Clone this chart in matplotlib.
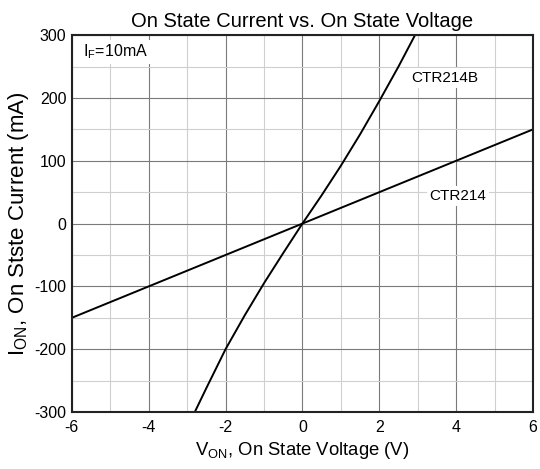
import matplotlib.pyplot as plt
import numpy as np

plt.rcParams['font.family'] = ['Liberation Sans', 'DejaVu Sans']
plt.rcParams['mathtext.fontset'] = 'custom'
plt.rcParams['mathtext.rm'] = 'Liberation Sans'
plt.rcParams['mathtext.default'] = 'regular'
plt.rcParams['axes.unicode_minus'] = False

# CTR214 (lecture sur le graphique)
v_214 = [-6, -4, -2, 0, 2, 4, 6]
i_214 = [-150, -100, -50, 0, 50, 100, 150]

# CTR214B
v_214b = [-2.8, -2.5, -2.0, -1.5, -1.0, -0.5, 0, 0.5, 1.0, 1.5, 2.0, 2.5, 2.93]
i_214b = [-300, -262, -200, -146, -95, -47, 0, 45, 92, 142, 195, 250, 300]

fig = plt.figure(figsize=(5.4, 4.69), dpi=100)
ax = fig.add_axes([0.133, 0.1215, 0.854, 0.8035])

ax.plot(v_214, i_214, color='black', lw=1.4)
ax.plot(v_214b, i_214b, color='black', lw=1.4)

ax.set_xlim(-6, 6)
ax.set_ylim(-300, 300)
ax.set_xticks(np.arange(-6, 7, 2))
ax.set_yticks(np.arange(-300, 301, 100))
ax.set_xticks(np.arange(-5, 6, 2), minor=True)
ax.set_yticks(np.arange(-250, 300, 100), minor=True)
ax.grid(True, which='major', color='#7a7a7a', lw=0.8)
ax.grid(True, which='minor', color='#cfcfcf', lw=0.8)
ax.set_axisbelow(True)
ax.tick_params(which='both', length=0, labelsize=11.5)
ax.tick_params(axis='x', pad=6)
ax.tick_params(axis='y', pad=4)
for s in ax.spines.values():
    s.set_linewidth(1.5)
    s.set_color('#222222')

ax.set_title('On State Current vs. On State Voltage', fontsize=14.5, pad=6)
ax.set_xlabel(r'V$_{ON}$, On State Voltage (V)', fontsize=13.3, labelpad=3)
ax.set_ylabel(r'I$_{ON}$, On Stste Current (mA)', fontsize=16, labelpad=2)

boite = dict(facecolor='white', edgecolor='none', pad=2)
ax.text(-5.7, 273, r'I$_F$=10mA', fontsize=11.5, va='center', ha='left', bbox=boite)
ax.text(3.7, 232, 'CTR214B', fontsize=11, va='center', ha='center', bbox=boite)
ax.text(4.05, 44, 'CTR214', fontsize=11, va='center', ha='center', bbox=boite)

fig.savefig('out.png', dpi=100)
